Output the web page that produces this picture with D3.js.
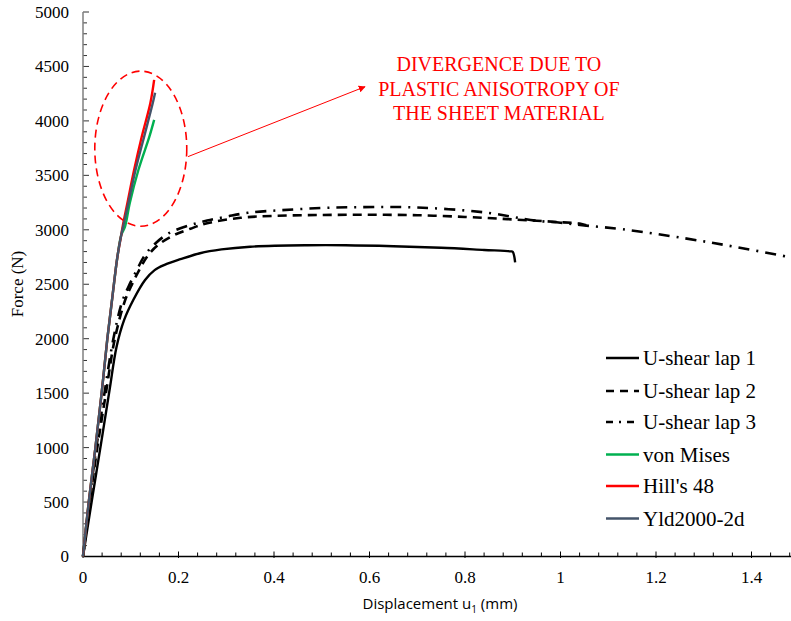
<!DOCTYPE html>
<html>
<head>
<meta charset="utf-8">
<script src="https://cdn.jsdelivr.net/npm/d3@7"></script>
<style>
  body { margin: 0; background: #fff; }
  svg { display: block; }
</style>
</head>
<body>
<script>
// experiment curves (displacement mm, force N)
var lap1U = [0, 0.018, 0.038, 0.056, 0.07, 0.086, 0.105, 0.13, 0.15, 0.172, 0.204, 0.245, 0.29, 0.35, 0.47, 0.55, 0.65, 0.75, 0.84, 0.896, 0.9, 0.905];
var lap1F = [0, 500, 1043, 1540, 1920, 2170, 2353, 2539, 2630, 2680, 2730, 2785, 2820, 2845, 2858, 2858, 2849, 2835, 2815, 2802, 2798, 2700];

var lap2U = [0, 0.014, 0.03, 0.048, 0.066, 0.086, 0.1, 0.118, 0.137, 0.16, 0.19, 0.225, 0.26, 0.33, 0.4, 0.5, 0.6, 0.7, 0.8, 0.88, 0.95, 1.0, 1.04, 1.062];
var lap2F = [0, 500, 1000, 1500, 1985, 2325, 2475, 2633, 2770, 2870, 2950, 3010, 3060, 3110, 3128, 3136, 3138, 3134, 3118, 3100, 3083, 3070, 3058, 3030];

var lap3U = [0, 0.013, 0.028, 0.045, 0.063, 0.081, 0.095, 0.113, 0.13, 0.152, 0.18, 0.224, 0.26, 0.3, 0.345, 0.415, 0.5, 0.58, 0.7, 0.84, 0.95, 1.0, 1.05, 1.13, 1.26, 1.37, 1.49];
var lap3F = [0, 500, 1000, 1500, 1985, 2325, 2475, 2633, 2770, 2877, 2969, 3043, 3085, 3120, 3156, 3180, 3200, 3208, 3205, 3160, 3083, 3065, 3040, 3005, 2922, 2840, 2740];

// simulations
var misesU = [0, 0.012, 0.026, 0.039, 0.051, 0.062, 0.072, 0.08, 0.088, 0.098, 0.116, 0.139, 0.149];
var misesF = [0, 500, 1000, 1500, 2000, 2400, 2750, 2950, 3029, 3246, 3549, 3855, 4009];

var hillU = [0, 0.012, 0.026, 0.039, 0.051, 0.062, 0.072, 0.08, 0.083, 0.093, 0.107, 0.123, 0.141, 0.149];
var hillF = [0, 500, 1000, 1500, 2000, 2400, 2750, 2950, 3029, 3246, 3549, 3855, 4162, 4376];

var yldU = [0, 0.012, 0.026, 0.039, 0.051, 0.062, 0.072, 0.08, 0.084, 0.095, 0.11, 0.128, 0.146, 0.151];
var yldF = [0, 500, 1000, 1500, 2000, 2400, 2750, 2950, 3029, 3246, 3549, 3855, 4162, 4259];

var seriesNames = ["U-shear lap 1", "U-shear lap 2", "U-shear lap 3", "von Mises", "Hill's 48", "Yld2000-2d"];
var xTicks = [0, 0.2, 0.4, 0.6, 0.8, 1, 1.2, 1.4];
var yTicks = [0, 500, 1000, 1500, 2000, 2500, 3000, 3500, 4000, 4500, 5000];
var noteLines = ["DIVERGENCE DUE TO", "PLASTIC ANISOTROPY OF", "THE SHEET MATERIAL"];

var width = 791, height = 621;
var svg = d3.select("body").append("svg")
    .attr("width", width)
    .attr("height", height);

var x = d3.scaleLinear().domain([0, 1.5]).range([83, 83 + 1.5 * 477.5]);
var y = d3.scaleLinear().domain([0, 5000]).range([556.5, 12]);

function zip(us, fs) {
  return us.map(function(u, i) { return {u: u, f: fs[i]}; });
}

var series = [
  {name: seriesNames[0], data: zip(lap1U, lap1F), color: "#000", width: 2.4, dash: null},
  {name: seriesNames[1], data: zip(lap2U, lap2F), color: "#000", width: 2.6, dash: "9,6"},
  {name: seriesNames[2], data: zip(lap3U, lap3F), color: "#000", width: 2.6, dash: "11,7,2,7"},
  {name: seriesNames[3], data: zip(misesU, misesF), color: "#00B050", width: 2.4, dash: null},
  {name: seriesNames[4], data: zip(hillU, hillF), color: "#FF0000", width: 2.4, dash: null},
  {name: seriesNames[5], data: zip(yldU, yldF), color: "#44546A", width: 2.4, dash: null}
];

// axes
var yMinor = d3.range(0, 5001, 100);
var yAxis = svg.append("g").attr("transform", "translate(83,0)");
yAxis.selectAll("line.minor")
    .data(yMinor)
    .enter().append("line")
    .attr("x1", 0).attr("x2", function(d) { return d % 500 === 0 ? 6 : 4; })
    .attr("y1", d => y(d)).attr("y2", d => y(d))
    .attr("stroke", "#333").attr("stroke-width", 1);
yAxis.append("line")
    .attr("x1", 0).attr("x2", 0)
    .attr("y1", y(0)).attr("y2", y(5000))
    .attr("stroke", "#7f7f7f").attr("stroke-width", 1.5);
yAxis.selectAll("text")
    .data(yTicks)
    .enter().append("text")
    .attr("x", -14)
    .attr("y", d => y(d))
    .attr("dy", "0.35em")
    .attr("text-anchor", "end")
    .style("font-family", "'Liberation Serif', 'Times New Roman', serif")
    .style("font-size", "17px")
    .text(d => d);

var xMinor = d3.range(0, 38).map(i => i * 0.04);
var xAxis = svg.append("g");
xAxis.selectAll("line")
    .data(xMinor)
    .enter().append("line")
    .attr("x1", d => x(d)).attr("x2", d => x(d))
    .attr("y1", function(d, i) { return i % 5 === 0 ? y(0) - 5 : y(0) - 4; })
    .attr("y2", function(d, i) { return i % 5 === 0 ? y(0) + 1.5 : y(0); })
    .attr("stroke", "#000").attr("stroke-width", 1);
xAxis.append("line")
    .attr("x1", x(0)).attr("x2", width)
    .attr("y1", y(0)).attr("y2", y(0))
    .attr("stroke", "#000").attr("stroke-width", 1.3);
xAxis.selectAll("text")
    .data(xTicks)
    .enter().append("text")
    .attr("x", d => x(d))
    .attr("y", 583)
    .attr("text-anchor", "middle")
    .style("font-family", "'Liberation Serif', 'Times New Roman', serif")
    .style("font-size", "17px")
    .text(d => d);

// axis titles
var xTitle = svg.append("text")
    .attr("x", 440).attr("y", 609)
    .attr("text-anchor", "middle")
    .style("font-family", "'Open Sans', sans-serif")
    .style("font-size", "15px");
xTitle.append("tspan").text("Displacement u");
xTitle.append("tspan").attr("dy", 4).style("font-size", "10px").text("1");
xTitle.append("tspan").attr("dy", -4).text(" (mm)");

svg.append("text")
    .attr("transform", "translate(23,284) rotate(-90)")
    .attr("text-anchor", "middle")
    .style("font-family", "'Liberation Serif', 'Times New Roman', serif")
    .style("font-size", "17px")
    .text("Force (N)");

// curves
var line = d3.line()
    .x(d => x(d.u))
    .y(d => y(d.f))
    .curve(d3.curveCatmullRom.alpha(0.5));

svg.append("g").selectAll("path")
    .data(series)
    .enter().append("path")
    .attr("d", d => line(d.data))
    .attr("fill", "none")
    .attr("stroke", d => d.color)
    .attr("stroke-width", d => d.width)
    .attr("stroke-dasharray", d => d.dash);

// annotation: ellipse, arrow, text
svg.append("ellipse")
    .attr("cx", x(0.121)).attr("cy", y(3745))
    .attr("rx", x(0.121 + 0.0963) - x(0.121))
    .attr("ry", y(3745) - y(3745 + 712))
    .attr("fill", "none")
    .attr("stroke", "#FF0000")
    .attr("stroke-width", 1.6)
    .attr("stroke-dasharray", "8,5");

svg.append("defs").append("marker")
    .attr("id", "arrow")
    .attr("viewBox", "0 0 10 10")
    .attr("refX", 9).attr("refY", 5)
    .attr("markerWidth", 7).attr("markerHeight", 7)
    .attr("orient", "auto")
    .append("path")
    .attr("d", "M0,0 L10,5 L0,10 z")
    .attr("fill", "#FF0000");

svg.append("line")
    .attr("x1", x(0.22)).attr("y1", y(3672))
    .attr("x2", x(0.5906)).attr("y2", y(4314))
    .attr("stroke", "#FF0000")
    .attr("stroke-width", 1)
    .attr("marker-end", "url(#arrow)");

svg.append("g").selectAll("text")
    .data(noteLines)
    .enter().append("text")
    .attr("x", x(0.871))
    .attr("y", (d, i) => 71 + i * 24.5)
    .attr("text-anchor", "middle")
    .attr("fill", "#FF0000")
    .style("font-family", "'Liberation Serif', 'Times New Roman', serif")
    .style("font-size", "20px")
    .text(d => d);

// legend
var legend = svg.append("g");
var rowY = [358, 391, 422, 454.5, 486, 518.5];
var rows = legend.selectAll("g")
    .data(series)
    .enter().append("g")
    .attr("transform", (d, i) => "translate(0," + rowY[i] + ")");
rows.append("line")
    .attr("x1", 606).attr("x2", 639)
    .attr("y1", 0).attr("y2", 0)
    .attr("stroke", d => d.color)
    .attr("stroke-width", d => d.width)
    .attr("stroke-dasharray", function(d, i) { return i === 1 ? "8,6" : (i === 2 ? "7,6,2,6" : null); });
rows.append("text")
    .attr("x", 643).attr("y", 7)
    .style("font-family", "'Liberation Serif', 'Times New Roman', serif")
    .style("font-size", "21px")
    .text(d => d.name);
</script>
</body>
</html>
